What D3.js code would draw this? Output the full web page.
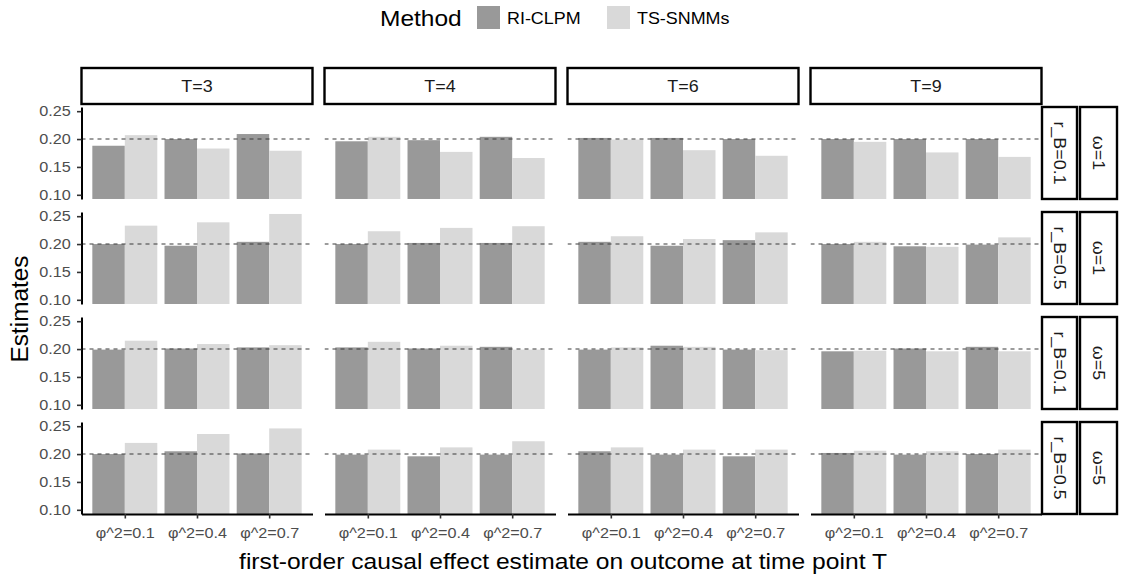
<!DOCTYPE html>
<html><head><meta charset="utf-8">
<script src="https://cdn.jsdelivr.net/npm/d3@7"></script>
<style>
body{margin:0;background:#fff}
text{font-family:"Liberation Sans",Arial,sans-serif}
</style>
</head><body>
<svg id="chart" width="1121" height="579"></svg>
<script>
// ---------- data ----------
const categories = ["φ^2=0.1", "φ^2=0.4", "φ^2=0.7"];
const timePoints = ["T=3", "T=4", "T=6", "T=9"];
const methods = ["RI-CLPM", "TS-SNMMs"];
const rBLabels = ["r_B=0.1", "r_B=0.5", "r_B=0.1", "r_B=0.5"];
const omegaLabels = ["ω=1", "ω=1", "ω=5", "ω=5"];
const yTicks = [0.10, 0.15, 0.20, 0.25];
const trueEffect = 0.20;

// each array: one entry per time point (T=3,4,6,9), each with the 3 φ^2 categories
const riclpm_rB01_w1 = [[0.188, 0.200, 0.209], [0.196, 0.198, 0.204], [0.202, 0.202, 0.200], [0.200, 0.200, 0.200]];
const tssnmm_rB01_w1 = [[0.207, 0.183, 0.179], [0.204, 0.177, 0.166], [0.199, 0.180, 0.170], [0.195, 0.176, 0.168]];
const riclpm_rB05_w1 = [[0.200, 0.197, 0.204], [0.200, 0.202, 0.202], [0.204, 0.197, 0.207], [0.200, 0.196, 0.199]];
const tssnmm_rB05_w1 = [[0.233, 0.239, 0.254], [0.223, 0.229, 0.232], [0.214, 0.209, 0.221], [0.204, 0.195, 0.212]];
const riclpm_rB01_w5 = [[0.199, 0.201, 0.203], [0.203, 0.201, 0.204], [0.199, 0.206, 0.199], [0.196, 0.201, 0.204]];
const tssnmm_rB01_w5 = [[0.215, 0.209, 0.207], [0.213, 0.206, 0.199], [0.203, 0.204, 0.198], [0.197, 0.196, 0.196]];
const riclpm_rB05_w5 = [[0.200, 0.205, 0.201], [0.199, 0.196, 0.199], [0.205, 0.199, 0.196], [0.202, 0.199, 0.200]];
const tssnmm_rB05_w5 = [[0.220, 0.236, 0.246], [0.208, 0.212, 0.223], [0.212, 0.208, 0.208], [0.206, 0.205, 0.208]];

const riclpmRows = [riclpm_rB01_w1, riclpm_rB05_w1, riclpm_rB01_w5, riclpm_rB05_w5];
const tssnmmRows = [tssnmm_rB01_w1, tssnmm_rB05_w1, tssnmm_rB01_w5, tssnmm_rB05_w5];

const colors = {"RI-CLPM": "#999999", "TS-SNMMs": "#D9D9D9"};

// build a long table from the arrays
const table = [];
riclpmRows.forEach((rowArr, r) => {
  rowArr.forEach((tArr, c) => {
    tArr.forEach((v, k) => {
      table.push({row: r, T: timePoints[c], cat: categories[k], method: "RI-CLPM", value: v});
      table.push({row: r, T: timePoints[c], cat: categories[k], method: "TS-SNMMs", value: tssnmmRows[r][c][k]});
    });
  });
});

// ---------- layout ----------
const svg = d3.select("#chart");
const colScale = d3.scaleBand().domain(timePoints).range([81.5, 1041.5]).paddingInner(0.0494);
const rowScale = d3.scaleBand().domain(d3.range(4)).range([107, 514]).paddingInner(0.124);
const pw = colScale.bandwidth(), ph = rowScale.bandwidth();
const y = d3.scaleLinear().domain([0.0925, 0.2575]).range([ph, 0]);
const x = d3.scalePoint().domain(categories).range([0, pw]).padding(0.6);
const xm = d3.scaleBand().domain(methods).range([-0.45 * x.step(), 0.45 * x.step()]);

function sText(parent, px, py, str, size, sx, anchor, rot, fill) {
  return parent.append("text")
    .attr("transform", `translate(${px},${py}) rotate(${rot || 0}) scale(${sx},1)`)
    .attr("text-anchor", anchor)
    .attr("dy", "0.35em")
    .attr("font-size", size)
    .attr("fill", fill || "#000")
    .text(str);
}

const defs = svg.append("defs");
defs.append("clipPath").attr("id", "pclip").append("rect").attr("width", pw).attr("height", ph);

for (let r = 0; r < 4; r++) {
  timePoints.forEach((T, c) => {
    const g = svg.append("g").attr("transform", `translate(${colScale(T)},${rowScale(r)})`);
    const inner = g.append("g").attr("clip-path", "url(#pclip)");
    inner.selectAll("rect.bar")
      .data(table.filter(d => d.row === r && d.T === T))
      .join("rect")
      .attr("class", "bar")
      .attr("x", d => x(d.cat) + xm(d.method))
      .attr("width", xm.bandwidth())
      .attr("y", d => y(d.value))
      .attr("height", d => y.range()[0] - y(d.value))
      .attr("fill", d => colors[d.method]);
    inner.append("line")
      .attr("x1", 0).attr("x2", pw)
      .attr("y1", y(trueEffect)).attr("y2", y(trueEffect))
      .attr("stroke", "#3a3a3a").attr("stroke-width", 1.1)
      .attr("stroke-dasharray", "4,4");

    if (c === 0) {
      const ax = g.append("g").call(d3.axisLeft(y).tickValues(yTicks).tickSize(4.5).tickSizeOuter(0).tickFormat(d3.format(".2f")));
      ax.select(".domain").attr("stroke", "#000").attr("stroke-width", 2);
      ax.selectAll(".tick line").attr("stroke", "#333").attr("stroke-width", 1.6);
      ax.selectAll(".tick text").attr("font-size", 14.5).attr("fill", "#4D4D4D")
        .attr("font-family", "Liberation Sans, Arial, sans-serif")
        .attr("x", -9.5).attr("transform", "scale(1.12,1)");
    }
    if (r === 3) {
      const ax = g.append("g").attr("transform", `translate(0,${ph})`)
        .call(d3.axisBottom(x).tickSize(4.5).tickSizeOuter(0));
      ax.select(".domain").attr("stroke", "#000").attr("stroke-width", 2);
      ax.selectAll(".tick line").attr("stroke", "#333").attr("stroke-width", 1.6);
      ax.selectAll(".tick text").attr("font-size", 15).attr("fill", "#4D4D4D")
        .attr("font-family", "Liberation Sans, Arial, sans-serif")
        .attr("y", 19).attr("dy", "0.35em").attr("transform", "scale(1.08,1)");
    }
  });
  // right strips
  const ry = rowScale(r);
  svg.append("rect").attr("x", 1042).attr("y", ry).attr("width", 35).attr("height", ph)
    .attr("fill", "#fff").attr("stroke", "#000").attr("stroke-width", 2.4);
  svg.append("rect").attr("x", 1080).attr("y", ry).attr("width", 37).attr("height", ph)
    .attr("fill", "#fff").attr("stroke", "#000").attr("stroke-width", 2.4);
  sText(svg, 1059.5, ry + ph / 2, rBLabels[r], 16, 1.12, "middle", 90, "#1A1A1A");
  sText(svg, 1098.5, ry + ph / 2, omegaLabels[r], 16, 1.12, "middle", 90, "#1A1A1A");
}

// top strips
timePoints.forEach(T => {
  svg.append("rect").attr("x", colScale(T)).attr("y", 68).attr("width", pw).attr("height", 36)
    .attr("fill", "#fff").attr("stroke", "#000").attr("stroke-width", 2.4);
  sText(svg, colScale(T) + pw / 2, 86, T, 16, 1.12, "middle", 0, "#1A1A1A");
});

// axis titles
sText(svg, 563, 561, "first-order causal effect estimate on outcome at time point T", 22, 1.12, "middle", 0, "#000");
sText(svg, 20, 309, "Estimates", 23, 1.06, "middle", -90, "#000");

// legend
sText(svg, 380, 18, "Method", 21.5, 1.14, "start", 0, "#000");
const legendX = [477, 607];
methods.forEach((m, i) => {
  svg.append("rect").attr("x", legendX[i]).attr("y", 6).attr("width", 23).attr("height", 23)
    .attr("fill", colors[m]);
  sText(svg, legendX[i] + 30, 18, m, 16, 1.12, "start", 0, "#000");
});
</script>
</body></html>
